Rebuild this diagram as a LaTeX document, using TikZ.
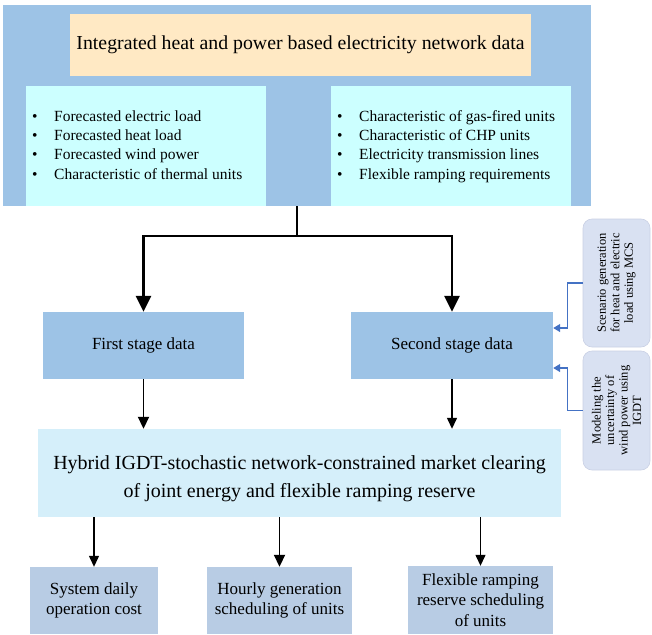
\documentclass[tikz,border=0pt]{standalone}
\usepackage{fontspec}
\setmainfont{Liberation Serif}
\usetikzlibrary{arrows.meta}
\definecolor{outerblue}{HTML}{9DC3E6}
\definecolor{titlecream}{HTML}{FFE9C4}
\definecolor{listcyan}{HTML}{CCFFFF}
\definecolor{hybridblue}{HTML}{D5EFFA}
\definecolor{resultblue}{HTML}{B8CCE4}
\definecolor{sidelav}{HTML}{D9E1F2}
\definecolor{sideedge}{HTML}{C9D0E4}
\definecolor{linkblue}{HTML}{4472C4}

\begin{document}
\begin{tikzpicture}[x=1pt, y=-1pt,
		box/.style={rectangle, inner sep=0pt, align=center},
		item/.style={anchor=west, inner sep=0pt, text height=10pt, text depth=3pt},
		side/.style={box, rounded corners=9pt, fill=sidelav, draw=sideedge, line width=0.6pt, rotate=90, minimum height=67pt},
		bigarrow/.style={line width=2.6pt, -{Triangle[width=15pt,length=16pt]}},
		midarrow/.style={line width=1.8pt, -{Triangle[width=11pt,length=12pt]}},
		smallarrow/.style={line width=1.3pt, -{Triangle[width=10pt,length=11pt]}},
		bluearrow/.style={line width=1.3pt, draw=linkblue, -{Triangle[width=8pt,length=7pt]}}]
		\def\titlesize{\fontsize{19.8pt}{23pt}\selectfont}
		\def\listsize{\fontsize{15.5pt}{18pt}\selectfont}
		\def\stagesize{\fontsize{17pt}{20pt}\selectfont}
		\def\hybridsize{\fontsize{20pt}{28pt}\selectfont}
		\def\resultsize{\fontsize{17pt}{20.5pt}\selectfont}
		\def\sidesize{\fontsize{12.5pt}{13.5pt}\selectfont}
		
		\useasboundingbox (0,0) rectangle (652,634);
		
		% draw network data block
		\node[box, fill=outerblue, minimum width=588pt, minimum height=201pt] (netdata) at (297,105.5) {};
		\node[box, fill=titlecream, minimum width=461pt, minimum height=62pt, font=\titlesize] (title) at (300.5,45) {Integrated heat and power based electricity network data};
		\node[box, fill=listcyan, minimum width=240pt, minimum height=120pt] (leftlist) at (146,146) {};
		\node[box, fill=listcyan, minimum width=240pt, minimum height=120pt] (rightlist) at (451,146) {};
		
		% draw bullet items
		\foreach \lbl [count=\y] in {Forecasted electric load, Forecasted heat load, Forecasted wind power, Characteristic of thermal units} {
			\node[item, font=\listsize] (leftitem\y) at (32, 98.5+19.3*\y) {\makebox[22pt][l]{\textbullet}\lbl};
		}
		\foreach \lbl [count=\y] in {Characteristic of gas-fired units, Characteristic of CHP units, Electricity transmission lines, Flexible ramping requirements} {
			\node[item, font=\listsize] (rightitem\y) at (337, 98.5+19.3*\y) {\makebox[22pt][l]{\textbullet}\lbl};
		}
		
		% draw stage data
		\node[box, fill=outerblue, minimum width=201pt, minimum height=67pt, font=\stagesize] (first) at (143.5,345.5) {First stage data};
		\node[box, fill=outerblue, minimum width=202pt, minimum height=67pt, font=\stagesize] (second) at (452,345.5) {Second stage data};
		
		% draw side notes
		\node[side, minimum width=128pt, font=\sidesize] (scenario) at (616.5,283) {Scenario generation\\for heat and electric\\load using MCS};
		\node[side, minimum width=119pt, font=\sidesize] (igdt) at (616.5,410.5) {Modeling the\\uncertainty of\\wind power using\\IGDT};
		
		% draw market clearing
		\node[box, fill=hybridblue, minimum width=523pt, minimum height=88pt, font=\hybridsize, text height=54pt] (hybrid) at (299.5,473) {Hybrid IGDT-stochastic network-constrained market clearing\\of joint energy and flexible ramping reserve};
		
		% draw results
		\node[box, fill=resultblue, minimum width=128pt, minimum height=67pt, font=\resultsize] (cost) at (94,600.5) {System daily\\operation cost};
		\node[box, fill=resultblue, minimum width=145pt, minimum height=67pt, font=\resultsize] (hourly) at (279.5,600.5) {Hourly generation\\scheduling of units};
		\node[box, fill=resultblue, minimum width=145pt, minimum height=68pt, font=\resultsize] (ramping) at (480.5,600) {Flexible ramping\\reserve scheduling\\of units};
		
		% draw arrows
		\coordinate (split) at (297,236);
		\draw[line width=2.6pt] (netdata.south) -- (split);
		\draw[bigarrow] (split) -| (first.north);
		\draw[bigarrow] (split) -| (second.north);
		\draw[midarrow] (first.south) -- (first.south |- hybrid.north);
		\draw[smallarrow] (second.south) -- (second.south |- hybrid.north);
		\draw[smallarrow] (hybrid.south -| cost.north) -- (cost.north);
		\draw[midarrow] (hybrid.south -| hourly.north) -- (hourly.north);
		\draw[smallarrow] (hybrid.south -| ramping.north) -- (ramping.north);
		\draw[bluearrow] (scenario.north) -- ++(-15,0) |- ([yshift=17.5pt]second.east);
		\draw[bluearrow] (igdt.north) -- ++(-15,0) |- ([yshift=-22.5pt]second.east);
\end{tikzpicture}
\end{document}
